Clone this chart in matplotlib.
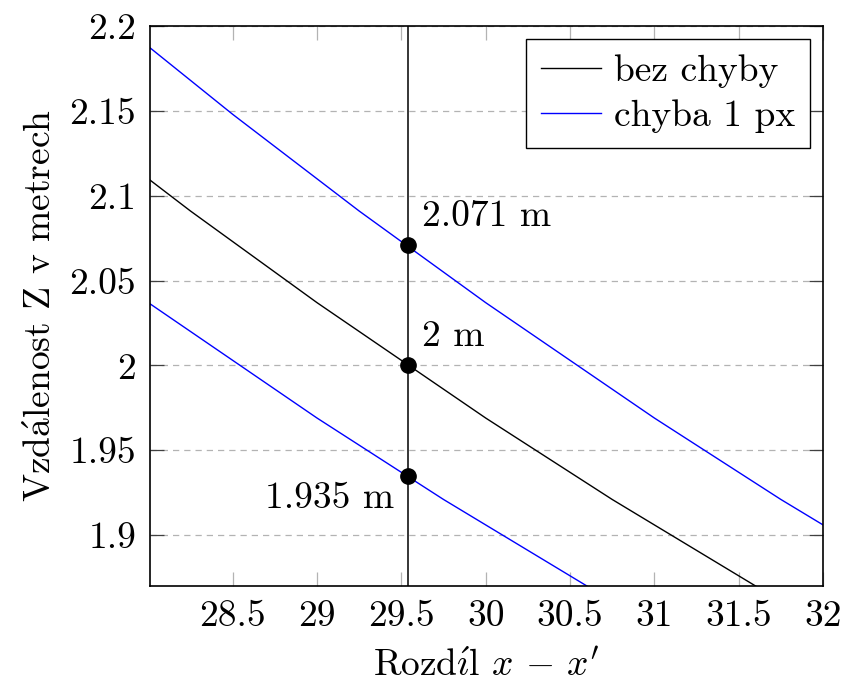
import numpy as np
import matplotlib
matplotlib.use("Agg")
from matplotlib import pyplot as plt

plt.rcParams['font.family'] = ['cmr10', 'DejaVu Serif']
plt.rcParams['mathtext.fontset'] = 'cm'
plt.rcParams['axes.formatter.use_mathtext'] = True
plt.rcParams['axes.unicode_minus'] = False

# values
x_vals = [28.0, 28.25, 28.5, 28.75, 29.0, 29.25, 29.5, 29.75,
          30.0, 30.25, 30.5, 30.75, 31.0, 31.25, 31.5, 31.75, 32.0]
z_black = [2.110, 2.091, 2.073, 2.055, 2.037, 2.020, 2.003, 1.986,
           1.969, 1.953, 1.937, 1.921, 1.906, 1.891, 1.876, 1.861, 1.846]
z_upper = [2.188, 2.168, 2.148, 2.129, 2.110, 2.091, 2.073, 2.055,
           2.037, 2.020, 2.003, 1.986, 1.969, 1.953, 1.937, 1.921, 1.906]
z_lower = [2.037, 2.020, 2.003, 1.986, 1.969, 1.953, 1.937, 1.921,
           1.906, 1.891, 1.876, 1.861, 1.846, 1.832, 1.817, 1.804, 1.790]

d_true = 29.54
pts_z = [2.071, 2.0, 1.935]
pts_txt = ["2.071 m", "2 m", "1.935 m"]

xticks = [28.5, 29, 29.5, 30, 30.5, 31, 31.5, 32]
xtick_labels = ["28.5", "29", "29.5", "30", "30.5", "31", "31.5", "32"]
yticks = [1.9, 1.95, 2.0, 2.05, 2.1, 2.15, 2.2]
ytick_labels = ["1.9", "1.95", "2", "2.05", "2.1", "2.15", "2.2"]

fs = 27

fig = plt.figure(figsize=(8.45, 6.86), dpi=100)
ax = fig.add_axes([0.1775, 0.1458, 0.7965, 0.8162])

ax.plot(x_vals, z_black, color='black', lw=1.0, label='bez chyby')
ax.plot(x_vals, z_upper, color='blue', lw=1.0, label='chyba 1 px')
ax.plot(x_vals, z_lower, color='blue', lw=1.0)
ax.axvline(d_true, color='black', lw=1.1)
ax.plot([d_true] * 3, pts_z, 'o', color='black', ms=11, zorder=5)

ax.annotate(pts_txt[0], (d_true, pts_z[0]), xytext=(14, 12), textcoords='offset pixels',
            ha='left', va='bottom', fontsize=fs)
ax.annotate(pts_txt[1], (d_true, pts_z[1]), xytext=(14, 12), textcoords='offset pixels',
            ha='left', va='bottom', fontsize=fs)
ax.annotate(pts_txt[2], (d_true, pts_z[2]), xytext=(-14, -6), textcoords='offset pixels',
            ha='right', va='top', fontsize=fs)

ax.set_xlim(28.01, 32)
ax.set_ylim(1.87, 2.2)
ax.set_xticks(xticks)
ax.set_xticklabels(xtick_labels)
ax.set_yticks(yticks)
ax.set_yticklabels(ytick_labels)

ax.yaxis.grid(True, color='#b3b3b3', ls=(0, (5, 4)), lw=0.9)
ax.tick_params(axis='x', direction='in', top=True, length=10, width=0.9,
               color='#b3b3b3', labelsize=fs, pad=10)
ax.tick_params(axis='y', direction='in', right=True, length=10, width=0.9,
               color='#404040', labelsize=fs, pad=10)
for s in ax.spines.values():
    s.set_linewidth(1.2)

ax.set_xlabel(r"Rozd$\mathrm{\acute{\imath}}$l $x\,-\,x'$", fontsize=fs, labelpad=12)
ax.set_ylabel(r"Vzd$\mathrm{\acute{a}}$lenost Z v metrech", fontsize=fs, labelpad=8)

leg = ax.legend(loc='upper right', fontsize=fs, fancybox=False, edgecolor='black',
                framealpha=1, handlelength=1.6, handletextpad=0.35, borderpad=0.4,
                labelspacing=0.3, borderaxespad=0.35)
leg.get_frame().set_linewidth(1.0)

fig.savefig("out.png", dpi=100)
